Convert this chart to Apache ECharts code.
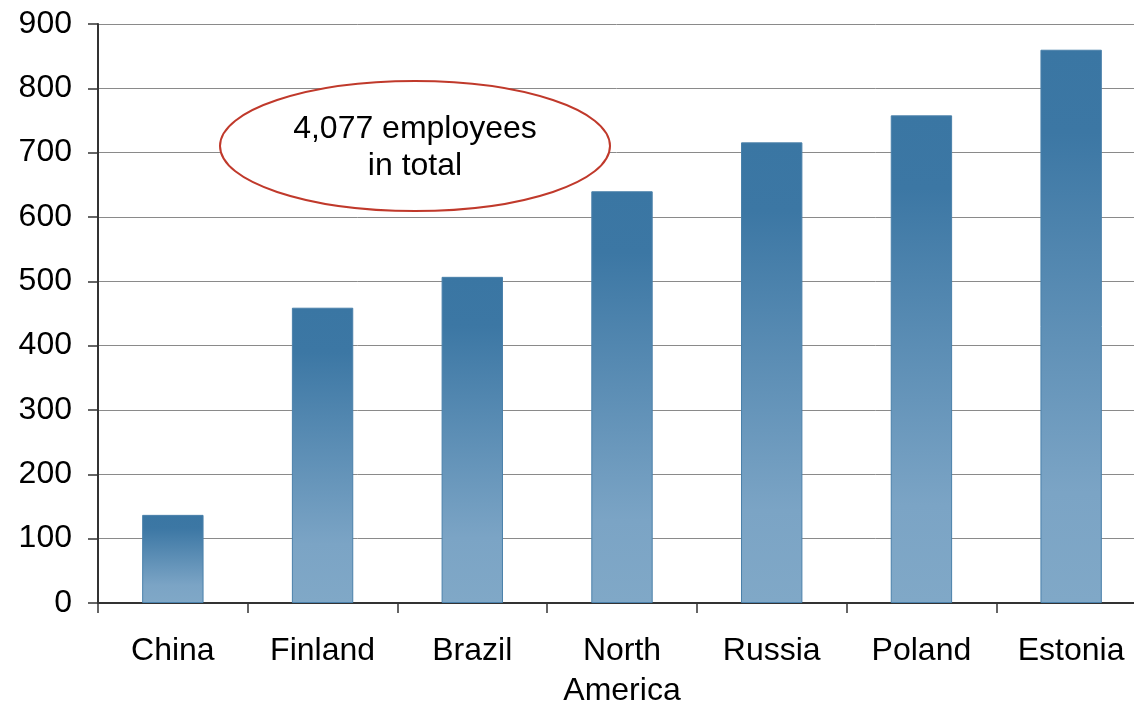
<!DOCTYPE html>
<html>
<head>
<meta charset="utf-8">
<script src="https://cdn.jsdelivr.net/npm/echarts@6/dist/echarts.min.js"></script>
<style>
  html, body { margin: 0; padding: 0; background: #fff; overflow: hidden; }
  #main { width: 1134px; height: 706px; }
</style>
</head>
<body>
<div id="main"></div>
<script type="text/javascript">
    // data
    var countries = ['China', 'Finland', 'Brazil', 'North\nAmerica', 'Russia', 'Poland', 'Estonia'];
    var employees = [137, 459, 507, 640, 716, 758, 860];
    var yTicks = [0, 100, 200, 300, 400, 500, 600, 700, 800, 900];
    var noteText = '4,077 employees\nin total';

    var myChart = echarts.init(document.getElementById('main'));

    // dark at the top, fading to a light steel blue toward the base
    var barFill = new echarts.graphic.LinearGradient(0, 0, 0, 1, [
        { offset: 0, color: '#3a76a3' },
        { offset: 0.15, color: '#3c77a4' },
        { offset: 0.8, color: '#7ba4c5' },
        { offset: 1, color: '#80a8c7' }
    ]);

    var option = {
        animation: false,
        textStyle: { fontFamily: 'Liberation Sans, Arial, sans-serif' },
        grid: { left: 98, right: -12, top: 24, bottom: 103, outerBoundsMode: 'none', containLabel: false },
        xAxis: {
            type: 'category',
            data: countries,
            axisLine: { lineStyle: { color: '#333', width: 2 } },
            axisTick: { show: true, length: 10, lineStyle: { color: '#333', width: 1.5 } },
            axisLabel: {
                color: '#000', fontSize: 32, lineHeight: 40, margin: 28, interval: 0,
                fontFamily: 'Liberation Sans, Arial, sans-serif'
            }
        },
        yAxis: {
            type: 'value',
            min: yTicks[0],
            max: yTicks[yTicks.length - 1],
            interval: 100,
            axisLine: { show: true, lineStyle: { color: '#333', width: 2 } },
            axisTick: { show: true, length: 10, lineStyle: { color: '#333', width: 1.5 } },
            axisLabel: {
                color: '#000', fontSize: 32, margin: 26,
                fontFamily: 'Liberation Sans, Arial, sans-serif'
            },
            splitLine: { lineStyle: { color: '#8a8a8a', width: 1 } }
        },
        series: [{
            type: 'bar',
            data: employees,
            barWidth: '41%',
            itemStyle: {
                color: barFill,
                borderColor: '#4a80aa',
                borderWidth: 1
            }
        }],
        graphic: [{
            type: 'ellipse',
            shape: { cx: 415, cy: 146, rx: 195, ry: 65 },
            style: { fill: '#fff', stroke: '#c0392b', lineWidth: 2 },
            z: 100
        }, {
            type: 'text',
            x: 415,
            y: 148,
            style: {
                text: noteText,
                fill: '#000',
                font: '32px "Liberation Sans", Arial, sans-serif',
                lineHeight: 37,
                align: 'center',
                verticalAlign: 'middle'
            },
            z: 101
        }]
    };

    myChart.setOption(option);
</script>
</body>
</html>
